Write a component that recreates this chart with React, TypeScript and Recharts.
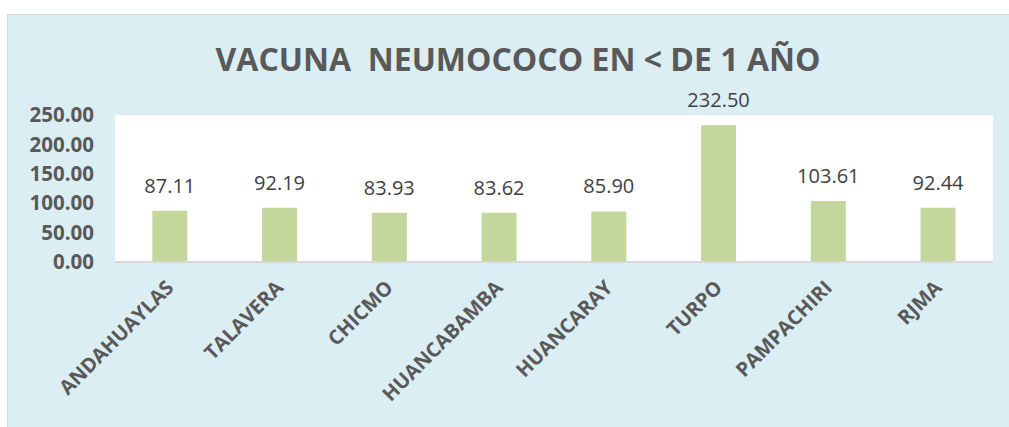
import { Bar, BarChart, CartesianGrid, LabelList, XAxis, YAxis } from "recharts";

const categories = [
  "ANDAHUAYLAS",
  "TALAVERA",
  "CHICMO",
  "HUANCABAMBA",
  "HUANCARAY",
  "TURPO",
  "PAMPACHIRI",
  "RJMA",
];
const coverage = [87.11, 92.19, 83.93, 83.62, 85.9, 232.5, 103.61, 92.44];
const yTicks = [0, 50, 100, 150, 200, 250];

const data = categories.map((name, i) => ({ name, value: coverage[i] }));

function RotatedTick(props: any) {
  const { x, y, payload } = props;
  const ax = x + 5;
  const ay = y + 19;
  return (
    <text
      x={ax}
      y={ay}
      transform={`rotate(-45, ${ax}, ${ay})`}
      textAnchor="end"
      fill="#595959"
      fontSize={20}
      fontWeight={700}
      fontFamily="'Open Sans', sans-serif"
    >
      {payload.value}
    </text>
  );
}

export default function App() {
  return (
    <div
      style={{
        position: "absolute",
        left: 0,
        top: 0,
        width: 1009,
        height: 427,
        background: "#fff",
        overflow: "hidden",
      }}
    >
      {/* chart area background */}
      <div
        style={{
          position: "absolute",
          left: 7,
          top: 14,
          width: 1010,
          height: 420,
          background: "#DBEEF4",
          border: "1px solid #D9D9D9",
        }}
      />
      <div
        style={{
          position: "absolute",
          left: 8,
          width: 1020,
          top: 37,
          fontFamily: "'Open Sans', sans-serif",
          fontWeight: 700,
          fontSize: 32,
          color: "#595959",
          whiteSpace: "pre",
          textAlign: "center",
        }}
      >
        {"VACUNA  NEUMOCOCO EN < DE 1 AÑO"}
      </div>
      <div style={{ position: "absolute", left: 8, top: 15 }}>
        <BarChart
          width={1001}
          height={412}
          data={data}
          margin={{ top: 100, right: 16, left: 22, bottom: 0 }}
          barCategoryGap="34%"
        >
          <CartesianGrid
            fill="#FFFFFF"
            stroke="none"
            horizontal={false}
            vertical={false}
          />
          <XAxis
            dataKey="name"
            interval={0}
            height={165}
            tickLine={false}
            axisLine={{ stroke: "#D9D9D9", strokeWidth: 2 }}
            tick={<RotatedTick />}
          />
          <YAxis
            width={85}
            domain={[0, 250]}
            ticks={yTicks}
            interval={0}
            axisLine={false}
            tickLine={false}
            tickMargin={15}
            tickFormatter={(v: number) => v.toFixed(2)}
            tick={{
              fill: "#595959",
              fontSize: 20.5,
              fontWeight: 700,
              fontFamily: "'Open Sans', sans-serif",
            }}
          />
          <Bar dataKey="value" fill="#C3D69B" isAnimationActive={false}>
            <LabelList
              dataKey="value"
              position="top"
              offset={18}
              formatter={(v: any) => Number(v).toFixed(2)}
              fill="#404040"
              fontSize={20}
              fontFamily="'Open Sans', sans-serif"
            />
          </Bar>
        </BarChart>
      </div>
    </div>
  );
}
